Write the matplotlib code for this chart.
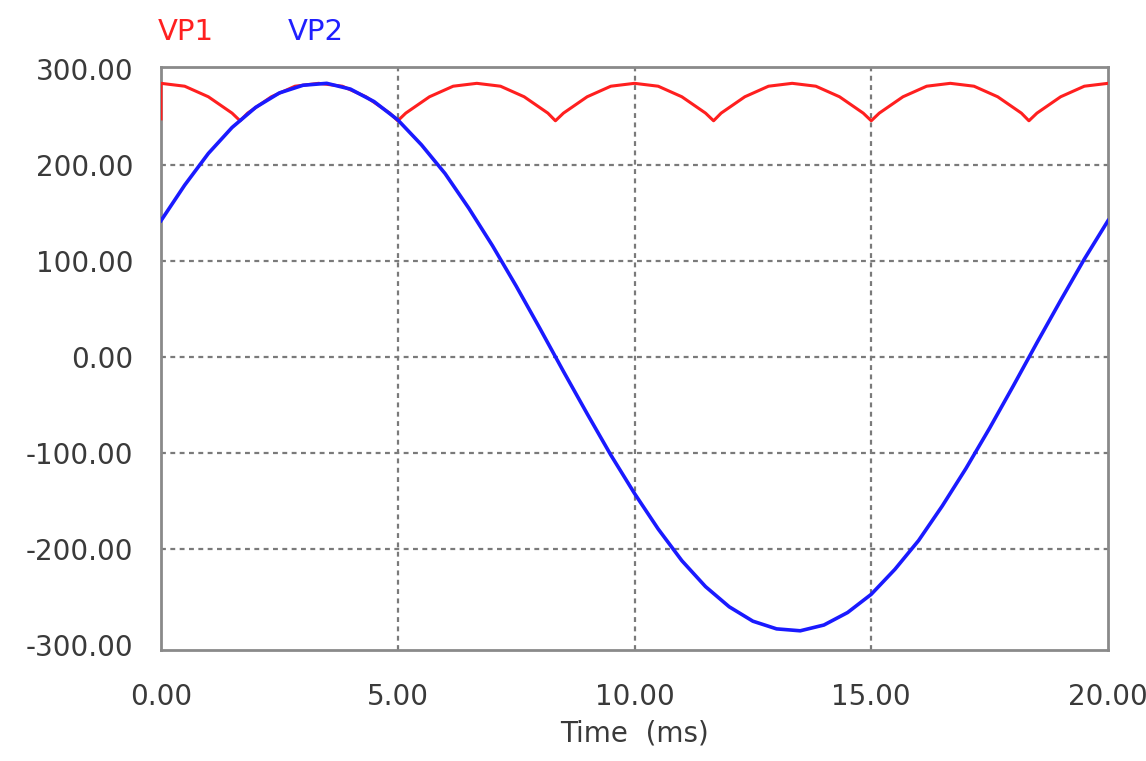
import matplotlib
matplotlib.use("Agg")
import matplotlib.pyplot as plt

# 读图得到的数据 (ms, V)
t_vp2 = [0.0, 0.5, 1.0, 1.5, 2.0, 2.5, 3.0, 3.5, 4.0, 4.5,
         5.0, 5.5, 6.0, 6.5, 7.0, 7.5, 8.0, 8.5, 9.0, 9.5,
         10.0, 10.5, 11.0, 11.5, 12.0, 12.5, 13.0, 13.5, 14.0, 14.5,
         15.0, 15.5, 16.0, 16.5, 17.0, 17.5, 18.0, 18.5, 19.0, 19.5, 20.0]
vp2 = [142, 179, 212, 239, 260, 275, 283, 285, 279, 266,
       247, 221, 191, 155, 116, 74, 30, -15, -59, -102,
       -142, -179, -212, -239, -260, -275, -283, -285, -279, -266,
       -247, -221, -191, -155, -116, -74, -30, 15, 59, 102, 142]

t_vp1 = [0.0, 0.0, 0.5, 1.0, 1.5, 1.67, 1.83, 2.33, 2.83, 3.33, 3.83, 4.33, 4.83,
         5.0, 5.17, 5.67, 6.17, 6.67, 7.17, 7.67, 8.17, 8.33, 8.5, 9.0, 9.5,
         10.0, 10.5, 11.0, 11.5, 11.67, 11.83, 12.33, 12.83, 13.33, 13.83, 14.33, 14.83,
         15.0, 15.17, 15.67, 16.17, 16.67, 17.17, 17.67, 18.17, 18.33, 18.5, 19.0, 19.5, 20.0]
vp1 = [248, 285, 282, 271, 254, 246, 254, 271, 282, 285, 282, 271, 254,
       246, 254, 271, 282, 285, 282, 271, 254, 246, 254, 271, 282,
       285, 282, 271, 254, 246, 254, 271, 282, 285, 282, 271, 254,
       246, 254, 271, 282, 285, 282, 271, 254, 246, 254, 271, 282, 285]

x_ticks = [0, 5, 10, 15, 20]
y_ticks = [300, 200, 100, 0, -100, -200, -300]

plt.rcParams['font.family'] = ['DejaVu Sans']

fig = plt.figure(figsize=(11.46, 7.61), dpi=100)
ax = fig.add_axes([161 / 1146, 1 - 650 / 761, (1108 - 161) / 1146, (650 - 67) / 761])

ax.plot(t_vp1, vp1, color='#ff1f1f', lw=2.2, zorder=3)
ax.plot(t_vp2, vp2, color='#1a1aff', lw=2.6, zorder=4)

ax.set_xlim(0, 20)
ax.set_ylim(-305, 302)
ax.set_xticks(x_ticks)
ax.set_yticks(y_ticks)
ax.set_xticklabels([f"{v:.2f}" for v in x_ticks])
ax.set_yticklabels([f"{v:.2f}" for v in y_ticks])
ax.tick_params(length=0, labelsize=20, labelcolor='#3a3a3a')
ax.tick_params(axis='y', pad=20)
ax.tick_params(axis='x', pad=24)

# 虚线网格
for v in [5, 10, 15]:
    ax.axvline(v, color='#7a7a7a', lw=1.6, dashes=(2.2, 2.0), zorder=1)
for v in [200, 100, 0, -100, -200]:
    ax.axhline(v, color='#7a7a7a', lw=1.6, dashes=(2.2, 2.0), zorder=1)

for s in ax.spines.values():
    s.set_color('#8a8a8a')
    s.set_linewidth(2)

ax.set_xlabel("Time  (ms)", fontsize=20, color='#3a3a3a', labelpad=6)

fig.text(158 / 1146, 1 - 32 / 761, "VP1", color='#ff2020', fontsize=21, va='center')
fig.text(288 / 1146, 1 - 32 / 761, "VP2", color='#2020ff', fontsize=21, va='center')

fig.savefig("out.png", dpi=100, facecolor='white')
